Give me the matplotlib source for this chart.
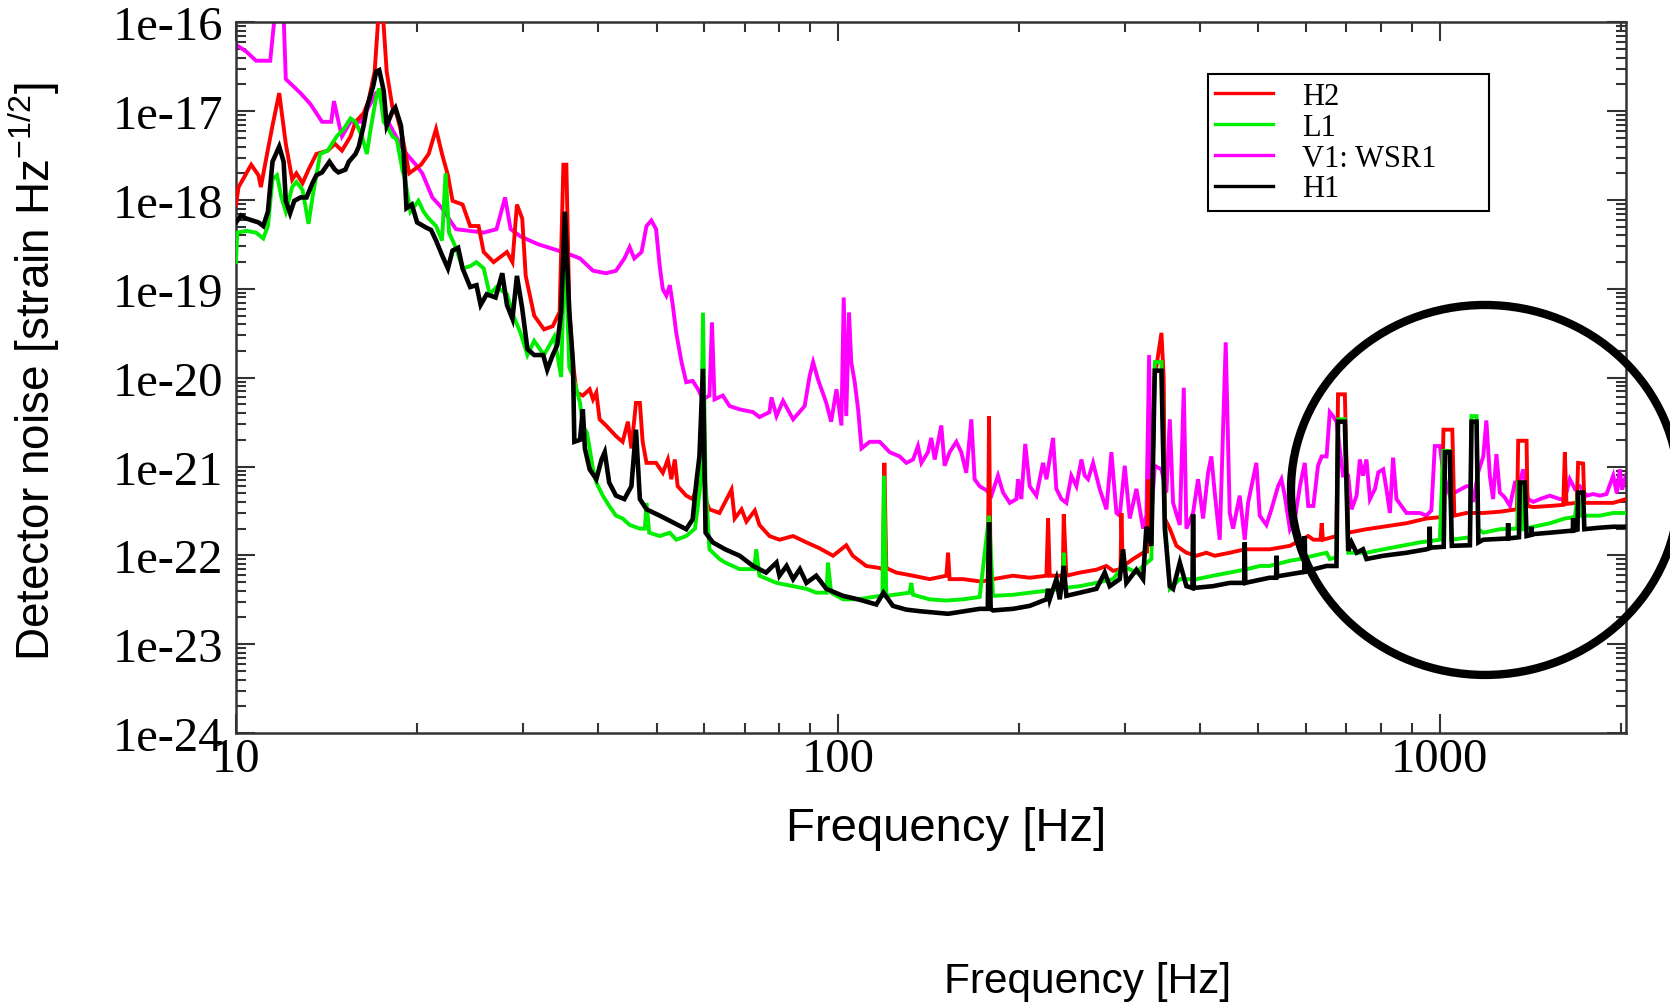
import numpy as np
import matplotlib
matplotlib.use("Agg")
import matplotlib.pyplot as plt
from matplotlib.patches import Ellipse
from matplotlib.ticker import LogLocator, FixedLocator, FuncFormatter, NullFormatter

# ---- data: (frequency [Hz], noise [strain/rtHz]) ----
H2 = [
    (10.0, 8.9e-19), (10.1, 1.4e-18), (10.6, 2.5e-18), (10.9, 1.9e-18), (11.0, 1.4e-18),
    (11.2, 2.7e-18), (11.5, 6.9e-18), (11.8, 1.6e-17), (12.1, 4.3e-18), (12.4, 1.7e-18),
    (12.6, 2.0e-18), (12.9, 1.55e-18), (13.2, 2.2e-18), (13.6, 3.3e-18), (14.2, 3.6e-18),
    (14.6, 4.3e-18), (15.0, 3.6e-18), (15.5, 5.2e-18), (15.8, 7.6e-18), (16.3, 9.5e-18),
    (16.6, 1.3e-17), (17.0, 2.8e-17), (17.25, 1.2e-16), (17.55, 1.2e-16), (17.8, 2.8e-17),
    (18.2, 1.1e-17), (18.5, 9.1e-18), (18.9, 5.2e-18), (19.4, 2.0e-18), (20.3, 2.5e-18),
    (20.9, 3.3e-18), (21.5, 6.3e-18), (22.0, 3.3e-18), (22.5, 1.9e-18), (22.9, 9.8e-19),
    (23.8, 8.9e-19), (24.5, 5.1e-19), (25.3, 5.1e-19), (25.8, 2.6e-19), (26.8, 2.0e-19),
    (28.2, 2.6e-19), (28.8, 2.0e-19), (29.3, 8.9e-19), (29.9, 6.2e-19), (30.3, 1.4e-19),
    (31.3, 5.0e-20), (32.5, 3.5e-20), (33.6, 3.8e-20), (34.5, 5.5e-20), (35.0, 2.5e-18),
    (35.4, 2.5e-18), (35.8, 5.9e-20), (36.3, 1.5e-20), (36.8, 6.8e-21), (37.7, 6.3e-21),
    (38.7, 7.4e-21), (39.2, 5.7e-21), (39.7, 6.8e-21), (40.2, 3.4e-21), (41.2, 2.9e-21),
    (42.8, 2.2e-21), (43.9, 1.9e-21), (44.8, 3.2e-21), (45.4, 1.6e-21), (46.2, 5.2e-21),
    (46.9, 5.2e-21), (47.4, 1.9e-21), (48.1, 1.1e-21), (49.9, 1.1e-21), (51.2, 8.5e-22),
    (52.2, 1.2e-21), (52.9, 7.2e-22), (53.6, 1.2e-21), (54.2, 6.0e-22), (56.0, 4.7e-22),
    (57.4, 4.3e-22), (59.7, 1.0e-21), (60.5, 4.0e-22), (61.2, 3.3e-22), (63.6, 3.0e-22),
    (66.6, 5.5e-22), (67.4, 2.6e-22), (69.2, 3.3e-22), (70.5, 2.4e-22), (72.8, 3.2e-22),
    (74.1, 2.2e-22), (77.0, 1.65e-22), (80.0, 1.5e-22), (84.3, 1.65e-22), (88.7, 1.4e-22),
    (93.3, 1.2e-22), (98.2, 9.9e-23), (103.3, 1.3e-22), (105.9, 9.9e-23), (111.5, 7.6e-23),
    (117.4, 7.2e-23), (118.9, 6.9e-23), (119.5, 1.1e-21), (120.4, 7.2e-23), (125.1, 6.4e-23),
    (133.4, 5.9e-23), (142.1, 5.4e-23), (151.5, 5.9e-23), (152.5, 1.07e-22), (153.4, 5.4e-23),
    (161.5, 5.4e-23), (172.1, 5.1e-23), (177.5, 5.2e-23), (178.4, 3.7e-21), (179.5, 5.3e-23),
    (181.1, 5.4e-23), (195.5, 5.9e-23), (208.4, 5.6e-23), (222.2, 5.9e-23), (223.6, 2.6e-22),
    (225.0, 5.9e-23), (236.5, 5.9e-23), (237.4, 2.9e-22), (239.8, 5.9e-23), (252.4, 6.4e-23),
    (269.0, 6.9e-23), (279.5, 7.6e-23), (286.7, 6.7e-23), (295.0, 7.0e-23), (296.0, 3.0e-22),
    (297.5, 7.5e-23), (309.5, 9.1e-23), (321.6, 1.07e-22), (326.5, 1.1e-22), (327.8, 7.2e-22),
    (332.0, 2.0e-22), (336.0, 1.0e-20), (338.5, 1.35e-20), (345.0, 3.2e-20), (348.0, 1.0e-20),
    (349.5, 2.6e-22), (356.2, 2.0e-22), (365.4, 1.28e-22), (379.6, 1.07e-22), (394.4, 9.9e-23),
    (409.7, 1.07e-22), (423.0, 9.9e-23), (448.0, 1.07e-22), (474.5, 1.17e-22), (522.0, 1.17e-22),
    (564.0, 1.28e-22), (605.0, 1.65e-22), (617.0, 1.5e-22), (634.0, 1.5e-22), (637.0, 2.3e-22),
    (640.0, 1.5e-22), (674.0, 1.65e-22), (678.0, 6.5e-21), (696.0, 6.5e-21), (705.0, 1.8e-22),
    (756.0, 1.97e-22), (806.0, 2.1e-22), (881.0, 2.3e-22), (951.0, 2.6e-22), (1008.0, 2.7e-22),
    (1015.0, 2.6e-21), (1050.0, 2.6e-21), (1058.0, 2.8e-22), (1108.0, 3.0e-22), (1182.0, 3.0e-22),
    (1259.0, 3.1e-22), (1345.0, 3.3e-22), (1351.0, 1.95e-21), (1395.0, 1.95e-21), (1400.0, 3.6e-22),
    (1431.0, 3.5e-22), (1525.0, 3.6e-22), (1605.0, 3.7e-22), (1615.0, 1.45e-21), (1625.0, 3.8e-22),
    (1690.0, 3.9e-22), (1699.0, 1.1e-21), (1732.0, 1.08e-21), (1740.0, 3.9e-22), (1846.0, 3.9e-22),
    (1943.0, 3.9e-22), (2040.0, 4.3e-22),
]

L1 = [
    (10.0, 2.0e-19), (10.05, 4.3e-19), (10.4, 4.5e-19), (10.8, 4.3e-19), (11.1, 3.7e-19),
    (11.3, 5.1e-19), (11.5, 1.7e-18), (11.7, 1.9e-18), (11.9, 1.07e-18), (12.1, 7.4e-19),
    (12.4, 1.4e-18), (12.6, 1.6e-18), (12.9, 1.3e-18), (13.2, 5.4e-19), (13.4, 1.07e-18),
    (13.6, 1.9e-18), (13.8, 3.3e-18), (14.2, 3.6e-18), (14.7, 5.2e-18), (15.1, 6.3e-18),
    (15.5, 8.3e-18), (15.8, 7.6e-18), (16.2, 5.2e-18), (16.5, 3.3e-18), (16.7, 5.7e-18),
    (16.9, 9.1e-18), (17.1, 1.45e-17), (17.3, 1.8e-17), (17.6, 7.6e-18), (17.8, 6.9e-18),
    (18.2, 5.2e-18), (18.5, 4.8e-18), (18.9, 2.2e-18), (19.1, 1.7e-18), (19.5, 7.4e-19),
    (20.1, 9.8e-19), (20.5, 7.4e-19), (20.9, 6.2e-19), (21.5, 5.1e-19), (22.0, 3.5e-19),
    (22.3, 2.0e-18), (22.6, 4.3e-19), (23.2, 2.9e-19), (23.8, 1.7e-19), (24.5, 1.8e-19),
    (25.1, 2.0e-19), (25.8, 1.7e-19), (26.4, 8.7e-20), (27.1, 1.05e-19), (28.2, 8.7e-20),
    (28.9, 5.0e-20), (29.7, 3.2e-20), (30.5, 1.8e-20), (31.3, 2.6e-20), (32.5, 1.8e-20),
    (33.8, 2.9e-20), (34.7, 1.02e-20), (35.2, 3.5e-19), (35.8, 1.3e-20), (36.3, 1.05e-20),
    (37.3, 5.2e-21), (37.7, 2.9e-21), (38.3, 2.4e-21), (38.7, 1.6e-21), (39.2, 9.3e-22),
    (39.7, 6.6e-22), (40.7, 4.7e-22), (41.7, 3.6e-22), (42.8, 2.8e-22), (43.9, 2.6e-22),
    (45.1, 2.2e-22), (46.9, 2.0e-22), (47.8, 2.0e-22), (48.1, 3.9e-22), (48.6, 1.8e-22),
    (50.6, 1.65e-22), (52.6, 1.8e-22), (53.9, 1.5e-22), (56.0, 1.65e-22), (57.9, 2.0e-22),
    (59.2, 6.6e-22), (59.7, 5.4e-20), (60.3, 6.6e-22), (61.2, 1.17e-22), (63.6, 9.1e-23),
    (65.0, 8.3e-23), (68.7, 7.0e-23), (72.6, 7.0e-23), (73.2, 1.17e-22), (74.1, 5.9e-23),
    (79.1, 4.9e-23), (84.3, 4.5e-23), (88.7, 4.2e-23), (92.1, 3.8e-23), (95.8, 3.8e-23),
    (96.3, 8.3e-23), (97.5, 3.8e-23), (102.0, 3.2e-23), (108.1, 3.2e-23), (117.4, 3.5e-23),
    (118.6, 3.5e-23), (119.3, 7.9e-22), (120.4, 3.5e-23), (131.6, 3.8e-23), (132.5, 4.9e-23),
    (133.4, 3.6e-23), (142.1, 3.2e-23), (151.5, 3.1e-23), (161.5, 3.2e-23), (172.1, 3.4e-23),
    (178.4, 2.8e-22), (181.1, 3.5e-23), (195.5, 3.6e-23), (208.4, 3.8e-23), (222.2, 4.0e-23),
    (236.5, 4.2e-23), (237.4, 1.07e-22), (238.5, 4.3e-23), (252.4, 4.5e-23), (269.0, 4.9e-23),
    (286.7, 5.4e-23), (297.9, 7.6e-23), (313.5, 6.4e-23), (321.6, 7.6e-23), (332.0, 9.1e-23),
    (336.3, 1.5e-20), (345.0, 1.5e-20), (349.5, 2.6e-22), (356.2, 4.2e-23), (370.1, 5.4e-23),
    (394.4, 5.4e-23), (420.3, 5.9e-23), (448.0, 6.4e-23), (474.5, 6.9e-23), (503.0, 7.6e-23),
    (522.0, 7.6e-23), (564.0, 8.7e-23), (586.0, 9.1e-23), (617.0, 9.9e-23), (649.0, 1.07e-22),
    (657.0, 9.1e-23), (674.0, 9.5e-23), (678.0, 3.4e-21), (696.0, 3.4e-21), (705.0, 1.07e-22),
    (756.0, 1.07e-22), (806.0, 1.17e-22), (864.0, 1.28e-22), (927.0, 1.4e-22), (1001.0, 1.5e-22),
    (1014.0, 1.5e-21), (1040.0, 1.5e-21), (1045.0, 1.5e-22), (1123.0, 1.6e-22), (1130.0, 3.7e-21),
    (1152.0, 3.7e-21), (1160.0, 1.97e-22), (1182.0, 1.8e-22), (1259.0, 1.97e-22), (1346.0, 2.0e-22),
    (1351.0, 6.6e-22), (1369.0, 6.6e-22), (1377.0, 1.97e-22), (1431.0, 2.1e-22), (1525.0, 2.3e-22),
    (1615.0, 2.6e-22), (1678.0, 2.7e-22), (1699.0, 5.1e-22), (1710.0, 2.8e-22), (1846.0, 2.8e-22),
    (1943.0, 3.0e-22), (2040.0, 3.0e-22),
]

V1 = [
    (10.0, 5.6e-17), (10.4, 4.7e-17), (10.8, 3.7e-17), (11.4, 3.7e-17), (11.6, 1.2e-16),
    (12.0, 1.2e-16), (12.1, 2.3e-17), (12.8, 1.6e-17), (13.3, 1.2e-17), (13.9, 7.6e-18),
    (14.4, 7.6e-18), (14.55, 1.3e-17), (14.85, 6.9e-18), (15.0, 5.2e-18), (15.5, 7.6e-18),
    (16.1, 7.6e-18), (17.1, 1.6e-17), (17.3, 1.6e-17), (17.9, 7.6e-18), (19.0, 3.6e-18),
    (19.9, 2.5e-18), (20.4, 2.0e-18), (21.2, 1.07e-18), (22.0, 8.1e-19), (23.2, 4.7e-19),
    (25.8, 4.3e-19), (27.1, 4.7e-19), (28.0, 1.07e-18), (28.6, 4.7e-19), (29.7, 3.9e-19),
    (31.7, 3.2e-19), (34.3, 2.7e-19), (36.1, 2.4e-19), (37.3, 2.2e-19), (39.2, 1.6e-19),
    (41.2, 1.5e-19), (42.8, 1.6e-19), (44.2, 2.2e-19), (45.1, 2.95e-19), (45.9, 2.2e-19),
    (47.2, 2.6e-19), (48.1, 5.1e-19), (49.0, 5.9e-19), (49.9, 4.7e-19), (50.6, 1.8e-19),
    (51.2, 9.9e-20), (51.9, 8.4e-20), (52.6, 1.1e-19), (53.2, 6.5e-20), (53.9, 3.2e-20),
    (55.0, 1.5e-20), (56.0, 8.9e-21), (57.4, 9.2e-21), (58.6, 7.4e-21), (59.7, 5.7e-21),
    (61.2, 6.3e-21), (61.8, 4.2e-20), (62.4, 5.7e-21), (64.4, 6.3e-21), (66.1, 4.8e-21),
    (68.7, 4.4e-21), (72.3, 4.1e-21), (74.1, 3.6e-21), (77.0, 4.1e-21), (77.6, 6.0e-21),
    (79.1, 3.7e-21), (81.1, 5.5e-21), (84.3, 3.4e-21), (88.1, 4.8e-21), (89.8, 1.05e-20),
    (91.0, 1.5e-20), (92.7, 9.6e-21), (95.7, 5.2e-21), (97.5, 3.2e-21), (99.5, 7.4e-21),
    (101.4, 2.9e-21), (102.3, 8.0e-20), (103.3, 3.7e-21), (104.4, 5.4e-20), (105.3, 1.5e-20),
    (106.7, 8.9e-21), (108.1, 4.4e-21), (109.5, 1.6e-21), (113.0, 1.9e-21), (117.4, 1.9e-21),
    (122.0, 1.45e-21), (126.7, 1.3e-21), (130.0, 1.1e-21), (133.4, 1.2e-21), (135.9, 1.7e-21),
    (137.7, 1.1e-21), (141.2, 1.45e-21), (143.0, 2.1e-21), (144.9, 1.2e-21), (148.6, 2.9e-21),
    (150.5, 1.02e-21), (153.4, 1.45e-21), (157.4, 1.9e-21), (160.4, 1.45e-21), (163.5, 8.5e-22),
    (166.7, 3.4e-21), (168.8, 7.2e-22), (172.1, 6.0e-22), (176.6, 5.4e-22), (180.0, 4.7e-22),
    (184.6, 7.9e-22), (188.2, 5.1e-22), (193.1, 3.9e-22), (198.1, 4.3e-22), (199.3, 7.2e-22),
    (201.8, 4.3e-22), (204.9, 1.8e-21), (208.4, 6.0e-22), (213.8, 4.7e-22), (219.3, 1.1e-21),
    (222.2, 7.2e-22), (227.9, 2.1e-21), (230.8, 5.6e-22), (235.3, 4.3e-22), (239.8, 3.9e-22),
    (244.4, 7.9e-22), (249.2, 6.0e-22), (254.0, 1.2e-21), (257.2, 7.9e-22), (260.6, 7.2e-22),
    (265.6, 1.1e-21), (272.4, 5.6e-22), (279.5, 3.3e-22), (284.9, 1.45e-21), (290.4, 3.0e-22),
    (294.1, 2.8e-22), (299.8, 1.02e-21), (305.6, 2.6e-22), (313.5, 5.6e-22), (321.6, 2.0e-22),
    (325.7, 2.8e-22), (329.1, 1.8e-20), (332.0, 2.8e-22), (336.3, 1.02e-21), (345.0, 9.3e-22),
    (351.6, 5.1e-22), (356.2, 3.4e-21), (360.7, 3.9e-22), (370.1, 2.2e-22), (375.8, 7.7e-21),
    (379.6, 2.0e-22), (389.4, 3.0e-22), (396.9, 7.2e-22), (404.6, 2.6e-22), (412.4, 8.5e-22),
    (417.6, 1.3e-21), (423.0, 5.1e-22), (431.2, 1.5e-22), (441.2, 2.5e-20), (448.0, 3.0e-22),
    (453.8, 2.0e-22), (465.5, 4.7e-22), (474.5, 1.5e-22), (480.6, 3.9e-22), (496.1, 1.1e-21),
    (502.5, 2.8e-22), (515.5, 2.2e-22), (525.5, 3.3e-22), (539.0, 6.0e-22), (546.0, 7.2e-22),
    (553.0, 4.7e-22), (564.0, 1.97e-22), (575.0, 2.6e-22), (586.0, 6.0e-22), (597.0, 1.1e-21),
    (605.0, 3.6e-22), (617.0, 3.6e-22), (628.0, 1.02e-21), (637.0, 1.3e-21), (649.0, 1.3e-21),
    (657.0, 4.1e-21), (665.0, 3.7e-21), (674.0, 3.2e-21), (691.0, 7.9e-22), (705.0, 7.9e-22),
    (714.0, 3.3e-22), (728.0, 4.7e-22), (737.0, 1.2e-21), (746.0, 7.9e-22), (756.0, 1.2e-21),
    (766.0, 4.3e-22), (781.0, 5.6e-22), (791.0, 8.6e-22), (806.0, 9.3e-22), (816.0, 5.6e-22),
    (827.0, 3.0e-22), (837.0, 1.26e-21), (848.0, 4.3e-22), (864.0, 3.6e-22), (881.0, 3.0e-22),
    (904.0, 3.0e-22), (927.0, 3.0e-22), (951.0, 2.8e-22), (969.0, 3.2e-22), (982.0, 1.7e-21),
    (1001.0, 1.7e-21), (1014.0, 8.6e-22), (1040.0, 4.7e-22), (1060.0, 5.1e-22), (1087.0, 5.6e-22),
    (1108.0, 6.0e-22), (1123.0, 6.0e-22), (1137.0, 4.0e-22), (1159.0, 8.6e-22), (1182.0, 1.3e-21),
    (1196.0, 3.3e-21), (1212.0, 7.9e-22), (1227.0, 4.3e-22), (1243.0, 1.38e-21), (1259.0, 5.1e-22),
    (1283.0, 4.5e-22), (1309.0, 3.6e-22), (1334.0, 6.6e-22), (1359.0, 6.6e-22), (1377.0, 9.3e-22),
    (1403.0, 4.3e-22), (1431.0, 4.0e-22), (1468.0, 4.3e-22), (1496.0, 4.5e-22), (1525.0, 4.7e-22),
    (1554.0, 4.5e-22), (1584.0, 4.3e-22), (1615.0, 4.3e-22), (1646.0, 7.2e-22), (1678.0, 5.6e-22),
    (1710.0, 6.0e-22), (1755.0, 4.7e-22), (1800.0, 4.9e-22), (1846.0, 4.7e-22), (1894.0, 4.9e-22),
    (1943.0, 7.9e-22), (1970.0, 5.0e-22), (1993.0, 9.3e-22), (2010.0, 5.5e-22), (2040.0, 7.9e-22),
]

H1 = [
    (10.0, 5.6e-19), (10.2, 6.7e-19), (10.4, 6.2e-19), (10.9, 5.6e-19), (11.1, 5.1e-19),
    (11.3, 7.4e-19), (11.5, 2.7e-18), (11.8, 4.0e-18), (12.0, 2.7e-18), (12.1, 9.8e-19),
    (12.3, 7.1e-19), (12.5, 9.8e-19), (12.8, 1.07e-18), (13.1, 1.07e-18), (13.4, 1.55e-18),
    (13.6, 1.9e-18), (13.9, 2.05e-18), (14.3, 2.7e-18), (14.6, 2.2e-18), (14.8, 2.05e-18),
    (15.2, 2.2e-18), (15.4, 2.7e-18), (15.8, 3.3e-18), (16.0, 4.0e-18), (16.3, 6.9e-18),
    (16.5, 1.1e-17), (16.9, 1.9e-17), (17.1, 2.8e-17), (17.3, 2.9e-17), (17.6, 1.7e-17),
    (17.8, 6.9e-18), (18.2, 1.0e-17), (18.4, 1.1e-17), (18.8, 6.9e-18), (19.0, 3.3e-18),
    (19.2, 8.1e-19), (19.6, 8.9e-19), (20.0, 5.6e-19), (20.7, 4.9e-19), (21.1, 4.6e-19),
    (21.5, 3.5e-19), (22.0, 2.4e-19), (22.5, 1.7e-19), (22.9, 2.7e-19), (23.4, 2.9e-19),
    (23.8, 1.7e-19), (24.5, 1.05e-19), (25.1, 1.1e-19), (25.5, 6.6e-20), (26.1, 8.7e-20),
    (27.0, 8.0e-20), (27.7, 1.5e-19), (28.2, 6.6e-20), (28.8, 4.6e-20), (29.3, 1.4e-19),
    (29.9, 6.0e-20), (30.5, 2.1e-20), (31.3, 1.8e-20), (32.4, 1.8e-20), (32.9, 1.23e-20),
    (33.6, 1.8e-20), (34.2, 2.35e-20), (34.7, 5.5e-20), (35.2, 7.4e-19), (35.8, 5.5e-20),
    (36.3, 1.5e-20), (36.5, 1.9e-21), (37.3, 2.0e-21), (37.7, 4.4e-21), (38.0, 1.6e-21),
    (38.7, 9.3e-22), (39.7, 7.2e-22), (40.5, 1.2e-21), (41.0, 1.45e-21), (41.7, 6.6e-22),
    (42.8, 4.7e-22), (44.2, 4.3e-22), (45.4, 6.0e-22), (46.2, 2.6e-21), (46.9, 4.3e-22),
    (48.1, 3.3e-22), (50.6, 2.8e-22), (53.2, 2.35e-22), (56.0, 1.97e-22), (57.4, 2.55e-22),
    (58.2, 6.6e-22), (58.9, 1.3e-21), (59.7, 1.26e-20), (60.3, 1.8e-22), (62.0, 1.4e-22),
    (65.0, 1.17e-22), (68.7, 9.9e-23), (72.3, 7.6e-23), (76.0, 6.4e-23), (79.1, 8.3e-23),
    (80.0, 5.9e-23), (82.2, 7.6e-23), (84.3, 5.4e-23), (86.5, 7.0e-23), (88.7, 4.9e-23),
    (92.1, 5.9e-23), (95.7, 4.2e-23), (102.0, 3.5e-23), (108.1, 3.2e-23), (115.9, 2.8e-23),
    (119.1, 3.8e-23), (123.5, 2.7e-23), (130.0, 2.45e-23), (137.0, 2.35e-23), (142.1, 2.3e-23),
    (152.5, 2.2e-23), (172.1, 2.5e-23), (177.5, 2.5e-23), (178.4, 2.35e-22), (179.5, 2.5e-23),
    (181.1, 2.4e-23), (195.5, 2.5e-23), (208.4, 2.7e-23), (222.2, 3.2e-23), (223.6, 4.2e-23),
    (225.0, 3.2e-23), (230.8, 5.4e-23), (233.8, 3.2e-23), (237.4, 7.6e-23), (239.8, 3.5e-23),
    (252.4, 3.8e-23), (269.0, 4.2e-23), (277.7, 6.4e-23), (283.1, 4.5e-23), (294.1, 5.4e-23),
    (297.9, 1.17e-22), (301.7, 4.9e-23), (313.5, 6.9e-23), (321.6, 5.4e-23), (325.7, 2.1e-22),
    (332.0, 1.28e-22), (336.3, 1.2e-20), (345.0, 1.2e-20), (349.5, 2.0e-22), (356.2, 4.5e-23),
    (360.7, 4.2e-23), (370.1, 8.3e-23), (379.6, 4.5e-23), (388.5, 4.3e-23), (389.4, 2.9e-22),
    (390.5, 4.3e-23), (420.3, 4.5e-23), (448.0, 4.9e-23), (473.5, 4.9e-23), (474.5, 1.4e-22),
    (475.5, 4.9e-23), (522.0, 5.6e-23), (535.0, 5.6e-23), (536.0, 9.9e-23), (537.0, 5.8e-23),
    (586.0, 6.4e-23), (596.0, 6.5e-23), (597.0, 1.65e-22), (598.0, 6.6e-23), (649.0, 7.6e-23),
    (674.0, 7.6e-23), (678.0, 3.2e-21), (696.0, 3.2e-21), (705.0, 1.12e-22), (714.0, 1.4e-22),
    (728.0, 1.07e-22), (746.0, 1.17e-22), (756.0, 9.1e-23), (806.0, 9.9e-23), (881.0, 1.07e-22),
    (951.0, 1.17e-22), (962.0, 1.2e-22), (963.0, 2.1e-22), (964.0, 1.22e-22), (1016.0, 1.25e-22),
    (1021.0, 1.45e-21), (1040.0, 1.45e-21), (1048.0, 1.28e-22), (1123.0, 1.3e-22), (1130.0, 3.2e-21),
    (1152.0, 3.2e-21), (1160.0, 1.4e-22), (1182.0, 1.5e-22), (1298.0, 1.55e-22), (1300.0, 2.3e-22),
    (1302.0, 1.55e-22), (1355.0, 1.6e-22), (1359.0, 6.6e-22), (1386.0, 6.6e-22), (1395.0, 1.65e-22),
    (1420.0, 1.7e-22), (1421.0, 2.1e-22), (1422.0, 1.73e-22), (1525.0, 1.8e-22), (1665.0, 1.9e-22),
    (1667.0, 2.6e-22), (1669.0, 1.9e-22), (1695.0, 1.95e-22), (1699.0, 5.1e-22), (1732.0, 5.1e-22),
    (1740.0, 1.97e-22), (1846.0, 2.05e-22), (1943.0, 2.1e-22), (2040.0, 2.1e-22),
]

# ---- fonts ----
plt.rcParams["mathtext.fontset"] = "custom"
plt.rcParams["mathtext.rm"] = "Liberation Sans"
plt.rcParams["mathtext.it"] = "Liberation Sans:italic"
plt.rcParams["mathtext.bf"] = "Liberation Sans:bold"

fig = plt.figure(figsize=(16.7, 10.04), dpi=100)
ax = fig.add_axes([0.1413, 0.2689, 0.8323, 0.7078])

# ---- curves (V1 under the LIGO traces, H1 on top) ----
series = [("H2", H2, "#ff0000", 2.8, 3),
          ("L1", L1, "#00ee00", 2.8, 4),
          ("V1: WSR1", V1, "#ff00ff", 2.8, 2),
          ("H1", H1, "black", 3.3, 5)]
handles = []
for name, pts, col, lw, z in series:
    f, v = np.array(pts).T
    ln, = ax.plot(f, v, color=col, lw=lw, zorder=z, label=name, solid_joinstyle="miter")
    handles.append(ln)

ax.set_xscale("log")
ax.set_yscale("log")
ax.set_xlim(10, 2040)
ax.set_ylim(1e-24, 1e-16)

ax.xaxis.set_major_locator(FixedLocator([10, 100, 1000]))
ax.xaxis.set_major_formatter(FuncFormatter(lambda x, _: "%d" % x))
ax.xaxis.set_minor_locator(LogLocator(base=10, subs=np.arange(2, 10), numticks=20))
ax.xaxis.set_minor_formatter(NullFormatter())
ax.yaxis.set_major_locator(LogLocator(base=10, numticks=20))
ax.yaxis.set_major_formatter(FuncFormatter(lambda y, _: "1e%d" % round(np.log10(y))))
ax.yaxis.set_minor_locator(LogLocator(base=10, subs=np.arange(2, 10), numticks=20))
ax.yaxis.set_minor_formatter(NullFormatter())

ax.tick_params(which="both", direction="in", top=True, right=True,
               width=1.5, color="#333333", labelsize=35,
               labelfontfamily="Liberation Serif")
ax.tick_params(which="major", length=14)
ax.tick_params(which="minor", length=7.5)
ax.tick_params(axis="y", pad=9)
ax.tick_params(axis="x", pad=3)
for s in ax.spines.values():
    s.set_linewidth(1.8)
    s.set_color("#333333")

ax.set_xlabel("Frequency [Hz]", fontsize=34, family="Liberation Sans", va="center")
ax.xaxis.set_label_coords(0.511, -0.134)
ax.set_ylabel("Detector noise [strain Hz$^{-1/2}$]", fontsize=33,
              family="Liberation Sans", va="center")
ax.yaxis.set_label_coords(-0.145, 0.51)

leg = ax.legend(handles=handles, loc="upper left",
                bbox_to_anchor=(0.699, 0.745, 0.2024, 0.182), mode="expand",
                prop={"family": "Liberation Serif", "size": 22},
                frameon=True, fancybox=False, framealpha=1, edgecolor="black",
                borderpad=0.25, labelspacing=0.06, handlelength=1.9,
                handletextpad=0.95, borderaxespad=0)
leg.get_frame().set_linewidth(1.5)
for h in leg.get_lines():
    h.set_linewidth(2.4)

# hand-drawn style circle highlighting the high-frequency band
fig.add_artist(Ellipse((0.8892, 0.511), 0.2323, 0.3685, transform=fig.transFigure,
                       fill=False, lw=6, ec="black", zorder=10))

fig.text(0.6515, 0.0219, "Frequency [Hz]", fontsize=30.5, family="Liberation Sans",
         ha="center", va="center")

fig.savefig("out.png", dpi=100)
